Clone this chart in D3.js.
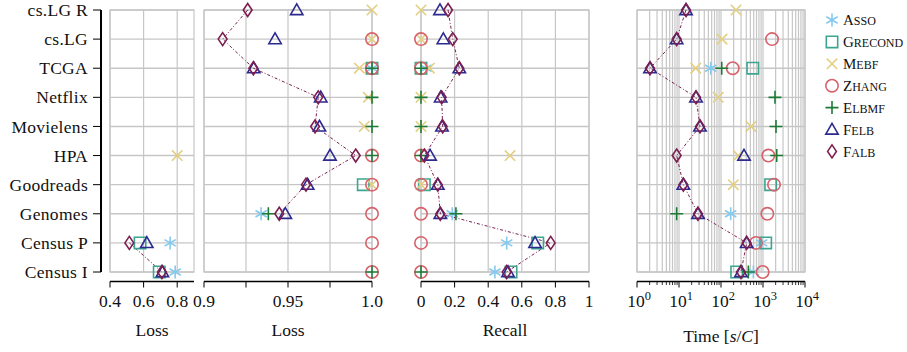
<!DOCTYPE html>
<html>
<head>
<meta charset="utf-8">
<script src="https://unpkg.com/d3@7/dist/d3.min.js"></script>
<style>
  body { margin: 0; background: #fff; }
  text { font-family: "Liberation Serif", "DejaVu Serif", serif; fill: #111; }
</style>
</head>
<body>
<script>
// data
const datasets = ["cs.LG R", "cs.LG", "TCGA", "Netflix", "Movielens", "HPA", "Goodreads", "Genomes", "Census P", "Census I"];
const methods = ["Asso", "Grecond", "Mebf", "Zhang", "Elbmf", "Felb", "Falb"];

const lossAsso    = [null, null, 1.0, null, null, null, null, 0.934, 0.758, 0.788];
const lossGrecond = [null, null, 1.0, null, null, null, 0.9948, null, 0.579, 0.693];
const lossMebf    = [1.0, 1.0, 0.9925, 0.9978, 0.9954, 0.80, 1.0, null, null, null];
const lossZhang   = [null, 1.0, 1.0, null, null, 1.0, 1.0, 1.0, 1.0, 1.0];
const lossElbmf   = [null, null, 1.0, 1.0, 1.0, 1.0, null, 0.9383, null, 1.0];
const lossFelb    = [0.9552, 0.9423, 0.9296, 0.9695, 0.9687, 0.975, 0.9617, 0.9484, 0.619, 0.712];
const lossFalb    = [0.926, 0.9111, 0.9294, 0.968, 0.9661, 0.9903, 0.9607, 0.9448, 0.515, 0.709];

const recallAsso    = [null, null, 0.03, null, null, null, null, 0.186, 0.51, 0.44];
const recallGrecond = [null, null, 0.0, null, null, null, 0.02, null, 0.695, 0.536];
const recallMebf    = [0, 0, 0.05, 0, 0, 0.53, 0, null, null, null];
const recallZhang   = [null, 0, 0, null, null, 0, 0, 0, 0, 0];
const recallElbmf   = [null, null, 0, 0, 0, 0, null, 0.208, null, 0];
const recallFelb    = [0.113, 0.133, 0.228, 0.117, 0.125, 0.054, 0.10, 0.115, 0.679, 0.518];
const recallFalb    = [0.161, 0.189, 0.228, 0.123, 0.129, 0.02, 0.10, 0.115, 0.772, 0.51];

const timeAsso    = [null, null, 57, null, null, null, null, 170, 930, 590];
const timeGrecond = [null, null, 570, null, null, null, 1520, null, 1160, 236];
const timeMebf    = [228, 106, 25, 86, 518, 259, 197, null, null, null];
const timeZhang   = [null, 1640, 190, null, null, 1340, 1830, 1270, 680, 980];
const timeElbmf   = [null, null, 104, 1930, 2040, 2120, null, 8.8, null, 448];
const timeFelb    = [14.7, 8.8, 2.04, 25.4, 31.6, 353, 12.7, 28.3, 408, 299];
const timeFalb    = [14.7, 8.8, 2.04, 25.4, 31.6, 8.8, 12.7, 28.3, 408, 299];

const lossTicks = [[0.4, 0.6, 0.8], [0.9, 0.925, 0.95, 0.975, 1.0]];
const lossLabels = [["0.4", "0.6", "0.8"], ["0.9", "", "0.95", "", "1.0"]];
const recallTicks = [0, 0.2, 0.4, 0.6, 0.8, 1];
const recallLabels = ["0", "0.2", "0.4", "0.6", "0.8", "1"];

const lossData = [lossAsso, lossGrecond, lossMebf, lossZhang, lossElbmf, lossFelb, lossFalb];
const recallData = [recallAsso, recallGrecond, recallMebf, recallZhang, recallElbmf, recallFelb, recallFalb];
const timeData = [timeAsso, timeGrecond, timeMebf, timeZhang, timeElbmf, timeFelb, timeFalb];

const colors = ["#86c9ee", "#3da58f", "#e3cf7f", "#d8626c", "#1d7a35", "#2c2a8e", "#7c1f50"];
const shapes = ["asterisk", "square", "x", "circle", "plus", "triangle", "diamond"];

// layout
const width = 907, height = 352;
const yTop = 10, yBottom = 272, axisY = 281.5;
const gridColor = "#c6c6c6";
const fontSize = "17.5px";

const svg = d3.select("body").append("svg").attr("width", width).attr("height", height);

const y = d3.scalePoint().domain(datasets).range([yTop, yBottom]);

function markerPath(shape) {
  switch (shape) {
    case "circle": return "M6.2,0A6.2,6.2 0 1,1 -6.2,0A6.2,6.2 0 1,1 6.2,0Z";
    case "square": return "M-5.7,-5.7H5.7V5.7H-5.7Z";
    case "triangle": return "M0,-6.2L6.2,4.6H-6.2Z";
    case "diamond": return "M0,-6.5L4.4,0L0,6.5L-4.4,0Z";
    case "plus": return "M-6.5,0H6.5M0,-6.5V6.5";
    case "x": return "M-5.2,-5.2L5.2,5.2M-5.2,5.2L5.2,-5.2";
    case "asterisk": {
      let p = "";
      [90, 30, 150].forEach((a) => {
        const r = (a * Math.PI) / 180, dx = 6.5 * Math.cos(r), dy = 6.5 * Math.sin(r);
        p += `M${-dx},${-dy}L${dx},${dy}`;
      });
      return p;
    }
  }
}

// y labels + left axis
svg.append("g")
  .selectAll("text")
  .data(datasets)
  .join("text")
  .attr("x", 88)
  .attr("y", (d) => y(d))
  .attr("dy", "0.35em")
  .attr("text-anchor", "end")
  .style("font-size", "17.5px")
  .style("letter-spacing", "0.3px")
  .text((d) => d);

svg.append("line")
  .attr("x1", 101).attr("x2", 101).attr("y1", yTop).attr("y2", yBottom)
  .attr("stroke", "#000").attr("stroke-width", 2);
svg.append("g")
  .selectAll("line")
  .data(datasets)
  .join("line")
  .attr("x1", 93).attr("x2", 101)
  .attr("y1", (d) => y(d)).attr("y2", (d) => y(d))
  .attr("stroke", "#000").attr("stroke-width", 1);

// panels
let clipId = 0;
function panel(x, gridTicks, axisTicks, labels, vals, title, minor) {
  const g = svg.append("g");
  const [x0, x1] = x.range();
  // grid
  g.append("g")
    .selectAll("line")
    .data(gridTicks)
    .join("line")
    .attr("x1", (d) => x(d)).attr("x2", (d) => x(d))
    .attr("y1", yTop).attr("y2", yBottom)
    .attr("stroke", gridColor).attr("stroke-width", 1.2);
  g.append("g")
    .selectAll("line")
    .data(datasets)
    .join("line")
    .attr("x1", x0).attr("x2", x1)
    .attr("y1", (d) => y(d)).attr("y2", (d) => y(d))
    .attr("stroke", gridColor).attr("stroke-width", 1.4);
  g.append("rect")
    .attr("x", x0).attr("y", yTop).attr("width", x1 - x0).attr("height", yBottom - yTop)
    .attr("fill", "none").attr("stroke", gridColor).attr("stroke-width", 1.2);

  // bottom axis
  g.append("line")
    .attr("x1", x0).attr("x2", x1).attr("y1", axisY).attr("y2", axisY)
    .attr("stroke", "#000").attr("stroke-width", 1.6);
  if (minor) {
    g.append("g")
      .selectAll("line")
      .data(minor)
      .join("line")
      .attr("x1", (d) => x(d)).attr("x2", (d) => x(d))
      .attr("y1", axisY).attr("y2", axisY + 3.5)
      .attr("stroke", "#000").attr("stroke-width", 0.8);
  }
  g.append("g")
    .selectAll("line")
    .data(axisTicks)
    .join("line")
    .attr("x1", (d) => x(d)).attr("x2", (d) => x(d))
    .attr("y1", axisY).attr("y2", axisY + 6)
    .attr("stroke", "#000").attr("stroke-width", 1);

  const lbl = g.append("g")
    .selectAll("text")
    .data(axisTicks)
    .join("text")
    .attr("x", (d) => x(d))
    .attr("y", 307)
    .attr("text-anchor", "middle")
    .style("font-size", fontSize);
  if (typeof labels === "function") labels(lbl);
  else lbl.text((d, i) => labels[i]);

  // clip
  const id = "clip" + clipId++;
  svg.append("clipPath").attr("id", id)
    .append("rect").attr("x", x0 - 8).attr("y", 0).attr("width", x1 - x0 + 16).attr("height", 285);
  const marks = svg.append("g").attr("clip-path", `url(#${id})`);
  const [d0, d1] = x.domain();
  const inside = (v) => v !== null && v >= Math.min(d0, d1) - 1e-9 && v <= Math.max(d0, d1) + 1e-9;

  // Falb line
  const falb = vals[6].map((v, i) => ({ v, i })).filter((p) => inside(p.v));
  marks.append("path")
    .datum(falb)
    .attr("fill", "none")
    .attr("stroke", colors[6])
    .attr("stroke-width", 1)
    .attr("stroke-dasharray", "3,2,1,2")
    .attr("d", d3.line().x((p) => x(p.v)).y((p) => y(datasets[p.i])));

  vals.forEach((series, m) => {
    marks.append("g")
      .selectAll("path")
      .data(series.map((v, i) => ({ v, i })).filter((p) => inside(p.v)))
      .join("path")
      .attr("transform", (p) => `translate(${x(p.v)},${y(datasets[p.i])})`)
      .attr("d", markerPath(shapes[m]))
      .attr("fill", "none")
      .attr("stroke", colors[m])
      .attr("stroke-width", 1.6);
  });

  if (title) {
    const t = svg.append("text")
      .attr("x", (x0 + x1) / 2)
      .attr("y", title.y)
      .attr("text-anchor", "middle")
      .style("font-size", fontSize);
    title.render(t);
  }
}

const xLoss1 = d3.scaleLinear().domain([0.4, 0.9]).range([110, 194]);
const xLoss2 = d3.scaleLinear().domain([0.9, 1.0]).range([204, 372]);
const xRecall = d3.scaleLinear().domain([0, 1]).range([421, 589]);
const xTime = d3.scaleLog().domain([1, 1e4]).range([637, 805]);

panel(xLoss1, [0.4, 0.6, 0.8], lossTicks[0], lossLabels[0], lossData,
  { y: 336, render: (t) => t.text("Loss") });
panel(xLoss2, lossTicks[1], lossTicks[1], lossLabels[1], lossData,
  { y: 336, render: (t) => t.text("Loss") });
panel(xRecall, recallTicks, recallTicks, recallLabels, recallData,
  { y: 336, render: (t) => t.text("Recall") });

const timeMajor = [1, 10, 100, 1000, 10000];
const timeMinor = [];
for (let e = 0; e < 4; e++) for (let k = 2; k <= 9; k++) timeMinor.push(k * Math.pow(10, e));
panel(xTime, timeMajor.concat(timeMinor), timeMajor,
  (sel) => {
    sel.attr("dx", 2).text("10");
    sel.append("tspan").attr("dy", -7).style("font-size", "12.5px").text((d) => Math.round(Math.log10(d)));
  },
  timeData,
  {
    y: 341.5,
    render: (t) => {
      t.append("tspan").text("Time [");
      t.append("tspan").style("font-style", "italic").text("s");
      t.append("tspan").text("/");
      t.append("tspan").style("font-style", "italic").text("C");
      t.append("tspan").text("]");
    },
  },
  timeMinor);

// legend (small caps written out by hand)
const legend = svg.append("g");
methods.forEach((m, i) => {
  const ly = 20 + i * 21.9;
  legend.append("path")
    .attr("transform", `translate(${832},${ly})`)
    .attr("d", markerPath(shapes[i]))
    .attr("fill", "none")
    .attr("stroke", colors[i])
    .attr("stroke-width", 1.6);
  const t = legend.append("text")
    .attr("x", 843)
    .attr("y", ly + 5.2)
    .style("font-size", "15px");
  t.append("tspan").text(m[0]);
  t.append("tspan").style("font-size", "12px").text(m.slice(1).toUpperCase());
});
</script>
</body>
</html>
